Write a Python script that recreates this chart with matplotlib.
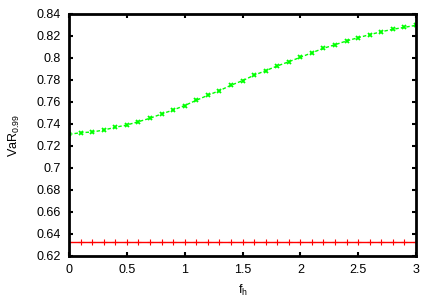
import matplotlib
matplotlib.use("Agg")
import matplotlib.pyplot as plt
import numpy as np

plt.rcParams['font.family'] = ['Liberation Sans', 'DejaVu Sans']
plt.rcParams['mathtext.fontset'] = 'custom'
plt.rcParams['mathtext.rm'] = 'Liberation Sans'
plt.rcParams['mathtext.it'] = 'Liberation Sans'

fh = [round(0.1 * i, 1) for i in range(31)]
var_green = [0.7306, 0.7321, 0.7327, 0.7345, 0.7370, 0.7391, 0.7421, 0.7452, 0.7491, 0.7527,
             0.7568, 0.7615, 0.7661, 0.7703, 0.7752, 0.7794, 0.7843, 0.7885, 0.7927, 0.7966,
             0.8006, 0.8048, 0.8088, 0.8121, 0.8155, 0.8185, 0.8212, 0.8239, 0.8261, 0.8279,
             0.8297]
var_red = [0.6325] * 31

xticks = [0, 0.5, 1, 1.5, 2, 2.5, 3]
xticklabels = ['0', '0.5', '1', '1.5', '2', '2.5', '3']
yticks = [0.62, 0.64, 0.66, 0.68, 0.70, 0.72, 0.74, 0.76, 0.78, 0.80, 0.82, 0.84]
yticklabels = ['0.62', '0.64', '0.66', '0.68', '0.7', '0.72', '0.74', '0.76', '0.78', '0.8', '0.82', '0.84']

fig = plt.figure(figsize=(4.36, 3.05), dpi=100)
ax = fig.add_axes([69/436, 49/305, 347/436, 242/305])

ax.plot(fh, var_red, color='#ff0000', lw=1.0, marker='+', ms=4.5, mew=0.8)
ax.plot(fh, var_green, color='#00ff00', lw=1.0, ls=(0, (2.5, 1.5)), marker='x', ms=3, mew=1.3)

ax.set_xlim(0, 3)
ax.set_ylim(0.62, 0.84)
ax.set_xticks(xticks)
ax.set_xticklabels(xticklabels)
ax.set_yticks(yticks)
ax.set_yticklabels(yticklabels)
ax.tick_params(direction='in', length=3, width=1.5, top=True, right=True, labelsize=9, pad=6)
for s in ax.spines.values():
    s.set_linewidth(2)
ax.set_xlabel('f$_{\\mathrm{h}}$', fontsize=9, labelpad=5)
ax.set_ylabel('VaR$_{0.99}$', fontsize=9, labelpad=10)

fig.savefig('out.png', dpi=100)
